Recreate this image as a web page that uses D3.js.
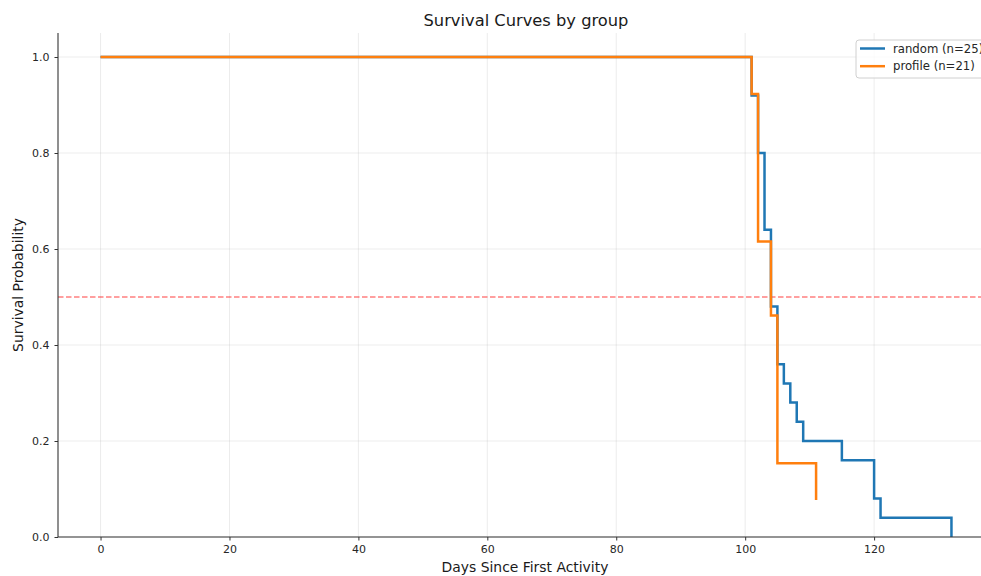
<!DOCTYPE html>
<html>
<head>
<meta charset="utf-8">
<script src="https://cdn.jsdelivr.net/npm/d3@7"></script>
<style>
  body { margin: 0; background: #fff; }
  svg { display: block; font-family: "DejaVu Sans", sans-serif; }
</style>
</head>
<body>
<div id="chart"></div>
<script>
// survival data (day, survival probability)
var randomDays = [0, 101, 102, 103, 104, 105, 106, 107, 108, 109, 115, 120, 121, 132]
var randomSurv = [1.0, 0.92, 0.80, 0.64, 0.48, 0.36, 0.32, 0.28, 0.24, 0.20, 0.16, 0.08, 0.04, 0.0]
var profileDays = [0, 101, 102, 104, 105, 111]
var profileSurv = [1.0, 0.9231, 0.6154, 0.4615, 0.1538, 0.0769]
var seriesNames = ['random (n=25)', 'profile (n=21)']
var seriesColors = ['#1f77b4', '#ff7f0e']
var xTicks = [0, 20, 40, 60, 80, 100, 120]
var yTicks = [0.0, 0.2, 0.4, 0.6, 0.8, 1.0]
var medianLine = 0.5

function makeSurvivalChart(id) {
    var W = 981, H = 576
    var margin = {top: 33, left: 58, bottom: 39}
    var plotRight = 994, plotBottom = H - margin.bottom

    var svg = d3.select('#' + id).append('svg')
        .attr('width', W)
        .attr('height', H)

    var x = d3.scaleLinear().domain([-6.6, 138.6]).range([margin.left, plotRight])
    var y = d3.scaleLinear().domain([0, 1.05]).range([plotBottom, margin.top])

    // grid
    svg.append('g').selectAll('line.gx')
        .data(xTicks).enter().append('line')
        .attr('x1', function(d) { return x(d) }).attr('x2', function(d) { return x(d) })
        .attr('y1', y(0)).attr('y2', y(1.05))
        .attr('stroke', '#b0b0b0').attr('stroke-opacity', 0.3).attr('stroke-width', 0.8)
    svg.append('g').selectAll('line.gy')
        .data(yTicks).enter().append('line')
        .attr('x1', x(-6.6)).attr('x2', x(138.6))
        .attr('y1', function(d) { return y(d) }).attr('y2', function(d) { return y(d) })
        .attr('stroke', '#b0b0b0').attr('stroke-opacity', 0.3).attr('stroke-width', 0.8)

    // median reference
    svg.append('line')
        .attr('x1', x(-6.6)).attr('x2', x(138.6))
        .attr('y1', y(medianLine)).attr('y2', y(medianLine))
        .attr('stroke', '#ff0000').attr('stroke-opacity', 0.5)
        .attr('stroke-width', 1.5).attr('stroke-dasharray', '5.5,2.5')

    // curves
    var line = d3.line()
        .x(function(d) { return x(d[0]) })
        .y(function(d) { return y(d[1]) })
        .curve(d3.curveStepAfter)
    var series = [d3.zip(randomDays, randomSurv), d3.zip(profileDays, profileSurv)]
    series.forEach(function(s, i) {
        svg.append('path')
            .datum(s)
            .attr('d', line)
            .attr('fill', 'none')
            .attr('stroke', seriesColors[i])
            .attr('stroke-width', 2.5)
    })

    // axes
    var xAxis = svg.append('g')
        .attr('transform', 'translate(0,' + plotBottom + ')')
        .call(d3.axisBottom(x).tickValues(xTicks).tickSize(3.5).tickPadding(5).tickFormat(d3.format('d')))
    var yAxis = svg.append('g')
        .attr('transform', 'translate(' + margin.left + ',0)')
        .call(d3.axisLeft(y).tickValues(yTicks).tickSize(3.5).tickPadding(5).tickFormat(d3.format('.1f')))
    ;[xAxis, yAxis].forEach(function(a) {
        a.select('.domain').attr('stroke', '#333').attr('stroke-width', 1.1)
        a.selectAll('.tick line').attr('stroke', '#333')
        a.selectAll('.tick text').attr('fill', '#262626')
            .style('font-size', '11px').style('font-family', '"DejaVu Sans", sans-serif')
    })
    xAxis.select('.domain').attr('d', 'M' + margin.left + ',0H' + plotRight)
    yAxis.select('.domain').attr('d', 'M0,' + plotBottom + 'V' + margin.top)

    // title and labels
    svg.append('text')
        .attr('x', 526).attr('y', 26)
        .attr('text-anchor', 'middle')
        .style('font-size', '16.3px').attr('fill', '#1a1a1a')
        .text('Survival Curves by group')
    svg.append('text')
        .attr('x', 525).attr('y', 572)
        .attr('text-anchor', 'middle')
        .style('font-size', '13.9px').attr('fill', '#1a1a1a')
        .text('Days Since First Activity')
    svg.append('text')
        .attr('transform', 'translate(23,' + (margin.top + plotBottom) / 2 + ') rotate(-90)')
        .attr('text-anchor', 'middle')
        .style('font-size', '13.9px').attr('fill', '#1a1a1a')
        .text('Survival Probability')

    // legend
    var lg = svg.append('g').attr('transform', 'translate(856,40)')
    lg.append('rect')
        .attr('width', 136).attr('height', 38).attr('rx', 3)
        .attr('fill', '#fff').attr('fill-opacity', 0.8)
        .attr('stroke', '#d0d0d0')
    seriesNames.forEach(function(n, i) {
        var row = lg.append('g').attr('transform', 'translate(0,' + (8.5 + i * 17.7) + ')')
        row.append('line')
            .attr('x1', 4).attr('x2', 29)
            .attr('stroke', seriesColors[i]).attr('stroke-width', 2.5)
        row.append('text')
            .attr('x', 37).attr('y', 4.2)
            .style('font-size', '11.7px').attr('fill', '#262626')
            .text(n)
    })
}
makeSurvivalChart('chart')
</script>
</body>
</html>
